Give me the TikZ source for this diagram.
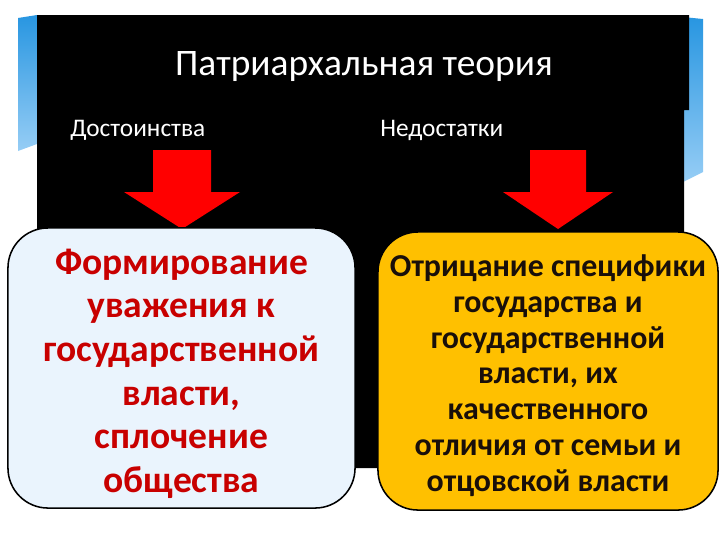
\documentclass[tikz,border=0pt]{standalone}
\usepackage{fontspec}
\setmainfont{Carlito}
\usepackage{tikz}
\usetikzlibrary{positioning}
\definecolor{ptblue}{RGB}{40,150,225}
\definecolor{ptlight}{RGB}{150,205,245}
\definecolor{ptred}{RGB}{255,0,0}
\definecolor{ptdkred}{RGB}{200,0,0}
\definecolor{ptpale}{RGB}{234,244,253}
\definecolor{ptgold}{RGB}{255,192,0}
\definecolor{ptink}{RGB}{25,15,10}

\begin{document}
\begin{tikzpicture}[x=0.025cm, y=-0.025cm,
  every node/.style={inner sep=0pt},
  heading/.style={text=white, font=\fontsize{26.6}{30}\selectfont},
  colhead/.style={text=white, font=\fontsize{18}{21}\selectfont, anchor=west},
  card/.style={draw=black, line width=1.1pt, rounded corners=1cm,
               align=center, font=\bfseries\fontsize{26.7}{31}\selectfont},
  prosbox/.style={card, fill=ptpale, text=ptdkred,
                  minimum width=8.675cm, minimum height=7cm},
  consbox/.style={card, fill=ptgold, text=ptink,
                  font=\bfseries\fontsize{22.7}{25.4}\selectfont,
                  minimum width=8.5cm, minimum height=6.95cm},
  downarrow/.style={fill=ptred},
  slab/.style={top color=ptblue, bottom color=ptlight},
]
\useasboundingbox (0,0) rectangle (720,540);

% decorative side slabs
\path[slab] (18,18) -- (37,15) -- (37,144) -- (18,151) -- cycle;
\path[slab] (683,17) -- (703,19) -- (703,172) -- (683,182) -- cycle;

% black panel
\fill[black] (37,15) -- (689,15) -- (689,110) -- (684,110)
  -- (684,468) -- (37,468) -- cycle;

% headings
\node[heading] (title) at (364,67) {Патриархальная теория};
\node[colhead] (pros) at (70,130) {Достоинства};
\node[colhead] (cons) at (380,130) {Недостатки};

% red arrows
\fill[downarrow] (153,150) -- (211,150) -- (211,192) -- (240,192)
  -- (182,229) -- (124,192) -- (153,192) -- cycle;
\fill[downarrow] (530,150) -- (586,150) -- (586,192) -- (613,192)
  -- (558,229) -- (503,192) -- (530,192) -- cycle;

% cards
\node[prosbox] (merit) at (181.5,368)
  {\rule{0pt}{26pt}Формирование\\уважения к\\государственной\\власти,\\сплочение\\общества};
\node[consbox] (flaw) at (548,371)
  {\rule{0pt}{22pt}Отрицание специфики\\государства и\\государственной\\власти, их\\качественного\\отличия от семьи и\\отцовской власти};

\end{tikzpicture}
\end{document}
